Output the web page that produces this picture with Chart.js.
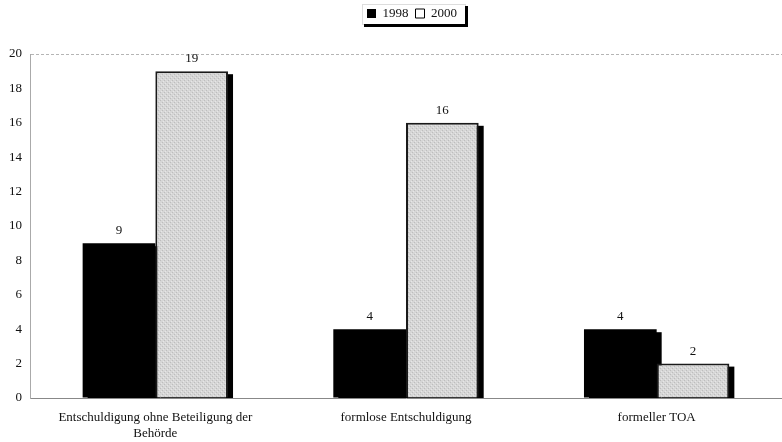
<!DOCTYPE html>
<html>
<head>
<meta charset="utf-8">
<script src="https://cdn.jsdelivr.net/npm/chart.js@4.4.1/dist/chart.umd.min.js"></script>
<style>
  html, body { margin: 0; padding: 0; background: #fff; }
  #wrap { width: 782px; height: 442px; }
</style>
</head>
<body>
<div id="wrap"><canvas id="c" width="782" height="442"></canvas></div>
<script>
const categories = [
  ['Entschuldigung ohne Beteiligung der', 'Behörde'],
  'formlose Entschuldigung',
  'formeller TOA'
];
const seriesNames = ['1998', '2000'];
const values1998 = [9, 4, 4];
const values2000 = [19, 16, 2];
const yTicks = [0, 2, 4, 6, 8, 10, 12, 14, 16, 18, 20];

const serif = 'Liberation Serif, Times New Roman, serif';

// fine stipple used as the fill of the grey bars
function stipple() {
  const c = document.createElement('canvas');
  c.width = 4; c.height = 4;
  const g = c.getContext('2d');
  g.fillStyle = '#d6d6d6';
  g.fillRect(0, 0, 4, 4);
  g.fillStyle = '#bdbdbd';
  g.fillRect(0, 0, 1, 1);
  g.fillRect(2, 2, 1, 1);
  g.fillStyle = '#e6e6e6';
  g.fillRect(3, 1, 1, 1);
  g.fillRect(1, 3, 1, 1);
  return g.createPattern(c, 'repeat');
}

const SHADOW_DX = 5, SHADOW_DY = 3;

// Bars are painted series by series (1998 first, then 2000), each one
// preceded by its hard black drop shadow. Value labels go on top.
const barDecor = {
  id: 'barDecor',
  beforeDatasetDraw() {
    return false;
  },
  afterDatasetsDraw(chart) {
    const ctx = chart.ctx;
    const area = chart.chartArea;
    ctx.save();
    ctx.beginPath();
    ctx.rect(area.left, area.top - 2, area.right - area.left + 10, area.bottom - area.top + 2);
    ctx.clip();
    chart.data.datasets.forEach((ds, i) => {
      const meta = chart.getDatasetMeta(i);
      ctx.fillStyle = '#000';
      meta.data.forEach(el => {
        const half = el.width / 2;
        const top = Math.min(el.y, el.base);
        const bottom = Math.max(el.y, el.base);
        ctx.fillRect(el.x - half + SHADOW_DX, top + SHADOW_DY, el.width, bottom - top);
      });
      meta.controller.draw();
    });
    ctx.restore();

    ctx.save();
    ctx.font = '13px ' + serif;
    ctx.fillStyle = '#111';
    ctx.textAlign = 'center';
    ctx.textBaseline = 'bottom';
    chart.data.datasets.forEach((ds, i) => {
      const meta = chart.getDatasetMeta(i);
      meta.data.forEach((el, j) => {
        ctx.fillText(String(ds.data[j]), el.x, el.y - 6);
      });
    });
    ctx.restore();
  }
};

// Legend sits centred over the plot area, with extra room below it
const legendPlace = {
  id: 'legendPlace',
  afterInit(chart) {
    const lg = chart.legend;
    const origFit = lg.fit;
    lg.fit = function () {
      origFit.call(this);
      this.height += 24;
    };
  },
  afterLayout(chart) {
    chart.legend.left = chart.chartArea.left + 6;
    chart.legend.right = chart.chartArea.right + 6;
  }
};

// frame with a heavy shadow edge around the legend
const legendFrame = {
  id: 'legendFrame',
  afterDraw(chart) {
    const lg = chart.legend;
    if (!lg || !lg.legendHitBoxes || !lg.legendHitBoxes.length) return;
    const boxes = lg.legendHitBoxes;
    const first = boxes[0], last = boxes[boxes.length - 1];
    const l = first.left - 5, r = last.left + last.width + 8;
    const t = first.top - 3, b = first.top + first.height + 4;
    const ctx = chart.ctx;
    ctx.save();
    ctx.strokeStyle = '#ddd';
    ctx.lineWidth = 1;
    ctx.strokeRect(l + 0.5, t + 0.5, r - l, b - t);
    ctx.fillStyle = '#000';
    ctx.fillRect(r, t + 2, 3, b - t + 1);
    ctx.fillRect(l + 2, b, r - l + 1, 3);
    ctx.restore();
  }
};

new Chart(document.getElementById('c'), {
  type: 'bar',
  data: {
    labels: categories,
    datasets: [
      {
        label: seriesNames[0],
        data: values1998,
        backgroundColor: '#000',
        borderColor: '#000',
        borderWidth: 0
      },
      {
        label: seriesNames[1],
        data: values2000,
        backgroundColor: stipple(),
        borderColor: '#1a1a1a',
        borderWidth: 2
      }
    ]
  },
  options: {
    responsive: false,
    animation: false,
    devicePixelRatio: 1,
    layout: { padding: 0 },
    datasets: {
      bar: { categoryPercentage: 0.58, barPercentage: 1.0 }
    },
    plugins: {
      tooltip: { enabled: false },
      legend: {
        position: 'top',
        align: 'center',
        labels: {
          font: { family: serif, size: 13 },
          color: '#111',
          boxWidth: 9,
          boxHeight: 9,
          padding: 7,
          generateLabels(chart) {
            const items = Chart.defaults.plugins.legend.labels.generateLabels(chart);
            items.forEach(it => {
              if (it.datasetIndex === 1) {
                it.fillStyle = '#fff';
                it.strokeStyle = '#000';
                it.lineWidth = 1;
              } else {
                it.fillStyle = '#000';
                it.strokeStyle = '#000';
                it.lineWidth = 0;
              }
            });
            return items;
          }
        }
      }
    },
    scales: {
      x: {
        grid: { display: false, drawTicks: false },
        border: { display: true, color: '#888', width: 1 },
        ticks: {
          font: { family: serif, size: 13 },
          color: '#111',
          padding: 12,
          maxRotation: 0,
          autoSkip: false
        },
        afterFit(scale) { scale.height = 44; }
      },
      y: {
        min: 0,
        max: 20,
        afterBuildTicks(scale) { scale.ticks = yTicks.map(v => ({ value: v })); },
        grid: {
          drawTicks: false,
          color: ctx => (ctx.tick && ctx.tick.value === 20) ? '#b5b5b5' : 'rgba(0,0,0,0)',
          lineWidth: 1
        },
        border: { display: true, color: '#aaa', width: 1, dash: [3, 2] },
        ticks: {
          font: { family: serif, size: 13 },
          color: '#111',
          padding: 8
        },
        afterFit(scale) { scale.width = 30; }
      }
    }
  },
  plugins: [barDecor, legendPlace, legendFrame]
});
</script>
</body>
</html>
